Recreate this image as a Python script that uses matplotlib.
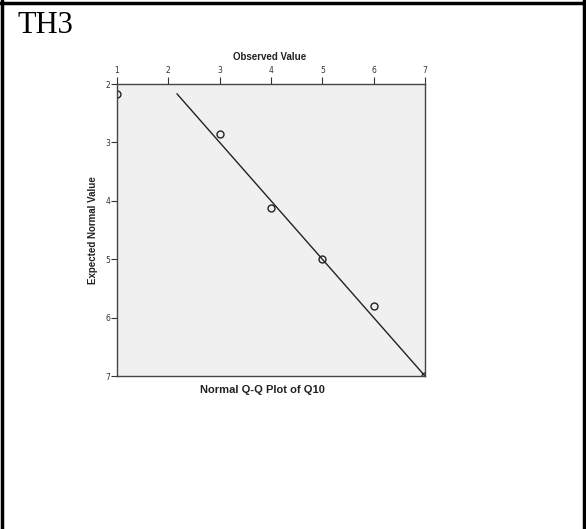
import matplotlib
matplotlib.use("Agg")
import matplotlib.pyplot as plt
from matplotlib.lines import Line2D

# Data
observed = [1, 3, 4, 5, 6, 7]
expected = [2.17, 2.86, 4.12, 5.00, 5.80, 7.00]
x_ticks = [1, 2, 3, 4, 5, 6, 7]
y_ticks = [2, 3, 4, 5, 6, 7]
title = "Normal Q-Q Plot of Q10"
x_label = "Observed Value"
y_label = "Expected Normal Value"
cell_label = "TH3"

W, H = 586, 529
fig = plt.figure(figsize=(W / 100, H / 100), dpi=100)
fig.patch.set_facecolor("white")

# table-cell borders
fig.add_artist(Line2D([0, 1], [1 - 3 / H, 1 - 3 / H], color="black", lw=2.5, transform=fig.transFigure))
fig.add_artist(Line2D([2 / W, 2 / W], [0, 1], color="black", lw=2.5, transform=fig.transFigure))
fig.add_artist(Line2D([1 - 2 / W, 1 - 2 / W], [0, 1], color="black", lw=2.5, transform=fig.transFigure))
fig.text(17 / W, 1 - 33 / H, cell_label, fontsize=22, family="Liberation Serif",
         ha="left", va="baseline")

# axes frame in pixels: left 117, top 84, right 425, bottom 376
L, T, R, B = 117, 84, 425, 376
ax = fig.add_axes([L / W, 1 - B / H, (R - L) / W, (B - T) / H])
ax.set_facecolor("#f0f0f0")
ax.set_xlim(1, 7)
ax.set_ylim(7, 2)  # flipped vertically as in the reference

lo, hi = min(expected), max(expected)
ax.plot([lo, hi], [lo, hi], color="#222222", lw=1.0)
ax.plot(observed, expected, "o", ms=5, mfc="none", mec="#222222", mew=1.0, clip_on=True)

ax.set_xticks(x_ticks)
ax.set_yticks(y_ticks)
ax.xaxis.tick_top()
ax.tick_params(axis="both", direction="out", length=5, width=0.8, labelsize=5.5,
               color="#333333", labelcolor="#333333", pad=1.5)
ax.tick_params(axis="y", length=4, pad=1)
ax.tick_params(axis="x", top=True, bottom=False)
ax.tick_params(axis="y", left=True, right=False)
for s in ax.spines.values():
    s.set_color("#444444")
    s.set_linewidth(1.0)

fig.text(270 / W, 1 - 57 / H, x_label, fontsize=7, fontweight="bold",
         family="Liberation Sans", ha="center", va="center", color="#222222")
fig.text(93 / W, 1 - 230 / H, y_label, fontsize=7, fontweight="bold", rotation=90,
         family="Liberation Sans", ha="center", va="center", color="#222222")
fig.text(262 / W, 1 - 390 / H, title, fontsize=8, fontweight="bold",
         family="Liberation Sans", ha="center", va="center", color="#222222")

fig.savefig("out.png", dpi=100)
